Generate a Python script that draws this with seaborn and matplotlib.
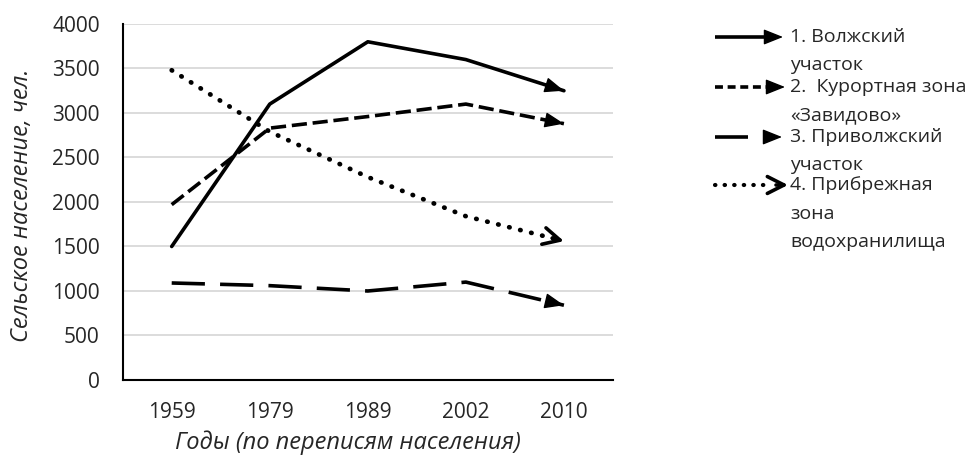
import matplotlib
matplotlib.use("Agg")
import numpy as np
import pandas as pd
import matplotlib.pyplot as plt
import seaborn as sns
from matplotlib.lines import Line2D

# ---- data ----
years = ["1959", "1979", "1989", "2002", "2010"]
volzhsky = [1500, 3100, 3800, 3600, 3250]
zavidovo = [1970, 2830, 2960, 3100, 2880]
privolzhsky = [1090, 1060, 1000, 1100, 840]
pribrezhnaya = [3480, 2790, 2280, 1840, 1560]

series_names = ["1. Волжский участок", "2. Курортная зона «Завидово»",
                "3. Приволжский участок", "4. Прибрежная зона водохранилища"]
legend_labels = ["1. Волжский\nучасток",
                 "2.  Курортная зона\n«Завидово»",
                 "3. Приволжский\nучасток",
                 "4. Прибрежная\nзона\nводохранилища"]
y_ticks = [0, 500, 1000, 1500, 2000, 2500, 3000, 3500, 4000]

values = [volzhsky, zavidovo, privolzhsky, pribrezhnaya]
rows = []
for name, vals in zip(series_names, values):
    for i, v in enumerate(vals):
        rows.append({"series": name, "pos": i, "value": v})
df = pd.DataFrame(rows)

# ---- style ----
sns.set_style("white")
plt.rcParams["font.family"] = ["Open Sans", "DejaVu Sans"]
FS = 15       # tick labels
FS_LAB = 17   # axis titles
FS_LEG = 14   # legend text

dash_map = {
    series_names[0]: "",
    series_names[1]: (4.2, 1.6),
    series_names[2]: (9.2, 4.2),
    series_names[3]: (0.1, 2.3),
}

fig = plt.figure(figsize=(9.79, 4.62), dpi=100)
ax = fig.add_axes([0.1253, 0.1775, 0.5008, 0.7706])

sns.lineplot(data=df, x="pos", y="value", hue="series", style="series",
             palette=["black"] * 4, dashes=dash_map, linewidth=2.6,
             legend=False, ax=ax)

# dotted line: round dots, a bit thicker
dot_line = ax.lines[3]
dot_line.set_dash_capstyle("round")
dot_line.set_linewidth(3.4)

# arrow heads at the end of each line
filled = "-|>,head_length=0.75,head_width=0.3"
head_styles = [filled, filled, filled, "->,head_length=0.75,head_width=0.38"]
head_lw = [1, 1, 1, 2.6]
for vals, style, hlw in zip(values, head_styles, head_lw):
    n = len(vals) - 1
    x0 = n - 0.12
    y0 = vals[n - 1] + (vals[n] - vals[n - 1]) * 0.88
    ax.annotate("", xy=(n, vals[n]), xytext=(x0, y0),
                arrowprops=dict(arrowstyle=style, color="black", lw=hlw,
                                mutation_scale=16, shrinkA=0, shrinkB=0),
                annotation_clip=False)

# ---- axes ----
ax.set_xlim(-0.5, len(years) - 0.5)
ax.set_ylim(0, 4000)
ax.set_yticks(y_ticks)
ax.set_yticklabels([str(t) for t in y_ticks], fontsize=FS)
ax.set_xticks(np.arange(-0.5, len(years), 1.0))
ax.set_xticklabels([])
ax.set_xticks(range(len(years)), minor=True)
ax.set_xticklabels(years, minor=True, fontsize=FS)
ax.tick_params(axis="x", which="major", direction="in", length=7, width=1.3, color="black")
ax.tick_params(axis="x", which="minor", length=0, pad=16)
ax.tick_params(axis="y", direction="out", length=4, width=1.3, color="black", pad=12.5)

ax.yaxis.grid(True, color="#d9d9d9", linewidth=1.3)
ax.xaxis.grid(False)
ax.set_axisbelow(True)
for s in ["top", "right"]:
    ax.spines[s].set_visible(False)
for s in ["left", "bottom"]:
    ax.spines[s].set_color("black")
    ax.spines[s].set_linewidth(1.5)

ax.set_xlabel("Годы (по переписям населения)", fontsize=FS_LAB, style="italic")
ax.xaxis.set_label_coords(0.46, -0.142)
ax.set_ylabel("Сельское население, чел.", fontsize=FS_LAB, style="italic")
ax.yaxis.set_label_coords(-0.18, 0.49)

# ---- custom legend on the right (figure pixels -> fraction) ----
W, H = 979.0, 462.0
leg_y = [37, 87, 137, 185]
line_x0 = 715
for k, (label, y) in enumerate(zip(legend_labels, leg_y)):
    yf = 1 - y / H
    if k == 0:
        seg = Line2D([line_x0 / W, 772 / W], [yf, yf], color="black", lw=2.6,
                     solid_capstyle="butt")
        tip = 783
    elif k == 1:
        seg = Line2D([line_x0 / W, 772 / W], [yf, yf], color="black", lw=2.6,
                     dashes=(2.2, 1.3), dash_capstyle="butt")
        tip = 785
    elif k == 2:
        seg = Line2D([line_x0 / W, 748 / W], [yf, yf], color="black", lw=2.6,
                     solid_capstyle="butt")
        tip = 782
    else:
        seg = Line2D([line_x0 / W, 768 / W], [yf, yf], color="black", lw=3.0,
                     dashes=(0.1, 2.2), dash_capstyle="round")
        tip = 788
    fig.add_artist(seg)
    ax.annotate("", xy=(tip / W, yf), xytext=((tip - 12) / W, yf),
                xycoords="figure fraction", textcoords="figure fraction",
                arrowprops=dict(arrowstyle=head_styles[k], color="black",
                                lw=head_lw[k], mutation_scale=16,
                                shrinkA=0, shrinkB=0),
                annotation_clip=False)
    for j, part in enumerate(label.split("\n")):
        fig.text(790 / W, 1 - (y + 28.5 * j) / H, part, fontsize=FS_LEG,
                 ha="left", va="center")

fig.savefig("out.png", dpi=100)
